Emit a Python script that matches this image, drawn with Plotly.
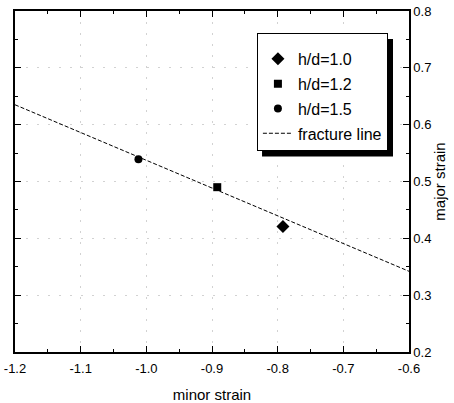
import plotly.graph_objects as go

# data
minor_10 = [-0.792]
major_10 = [0.421]
minor_12 = [-0.892]
major_12 = [0.490]
minor_15 = [-1.012]
major_15 = [0.539]
line_minor = [-1.2, -0.6]
line_major = [0.635, 0.342]

x_ticks = [-1.2, -1.1, -1.0, -0.9, -0.8, -0.7, -0.6]
y_ticks = [0.2, 0.3, 0.4, 0.5, 0.6, 0.7, 0.8]

FONT = "Liberation Sans, Arial, sans-serif"

fig = go.Figure()
fig.add_trace(go.Scatter(x=minor_10, y=major_10, mode="markers", name="h/d=1.0",
                         legendgroup="a",
                         marker=dict(symbol="diamond", size=10, color="black")))
fig.add_trace(go.Scatter(x=minor_12, y=major_12, mode="markers", name="h/d=1.2",
                         legendgroup="b",
                         marker=dict(symbol="square", size=8, color="black")))
fig.add_trace(go.Scatter(x=minor_15, y=major_15, mode="markers", name="h/d=1.5",
                         legendgroup="c",
                         marker=dict(symbol="circle", size=8, color="black")))
fig.add_trace(go.Scatter(x=line_minor, y=line_major, mode="lines", name="fracture line",
                         legendgroup="d",
                         line=dict(color="black", width=1, dash="4px,2px")))

axis_common = dict(
    showline=True, linecolor="black", linewidth=1.5, mirror="ticks",
    ticks="inside", ticklen=6, tickwidth=1.2, tickcolor="black",
    showgrid=True, gridcolor="#d2d2d2", gridwidth=1, griddash="2px,9px",
    zeroline=False, tickfont=dict(family=FONT, size=13, color="black"),
    minor=dict(ticks="inside", ticklen=3, tickwidth=1.2, tickcolor="black", showgrid=False),
    automargin=False,
)

fig.update_xaxes(range=[-1.2, -0.6], tickvals=x_ticks,
                 ticktext=[f"{v:.1f}" for v in x_ticks],
                 minor_dtick=0.05, ticklabelstandoff=4,
                 title=dict(text="minor strain", font=dict(family=FONT, size=15, color="black"),
                            standoff=14),
                 **axis_common)
fig.update_yaxes(range=[0.2, 0.8], tickvals=y_ticks, side="right",
                 ticktext=[f"{v:.1f}" for v in y_ticks],
                 minor_dtick=0.05,
                 title=dict(text="major strain", font=dict(family=FONT, size=15, color="black"),
                            standoff=4),
                 **axis_common)

# legend shadow
fig.add_shape(type="rect", xref="paper", yref="paper",
              x0=0.627, x1=0.9594, y0=0.5735, y1=0.9176,
              fillcolor="black", line=dict(width=0), layer="above")

fig.update_layout(
    width=454, height=403,
    margin=dict(l=15, r=45, t=11, b=51, autoexpand=False),
    plot_bgcolor="white", paper_bgcolor="white",
    font=dict(family=FONT, size=13, color="black"),
    legend=dict(x=0.614, y=0.935, xanchor="left", yanchor="top",
                bgcolor="white", bordercolor="black", borderwidth=1,
                font=dict(family=FONT, size=16, color="black"),
                title=dict(text=" ", font=dict(family=FONT, size=6)),
                tracegroupgap=1, traceorder="grouped"),
    showlegend=True,
)

fig.write_html("out.html", config={"displayModeBar": False},
               post_script="document.body.style.margin='0px';")
